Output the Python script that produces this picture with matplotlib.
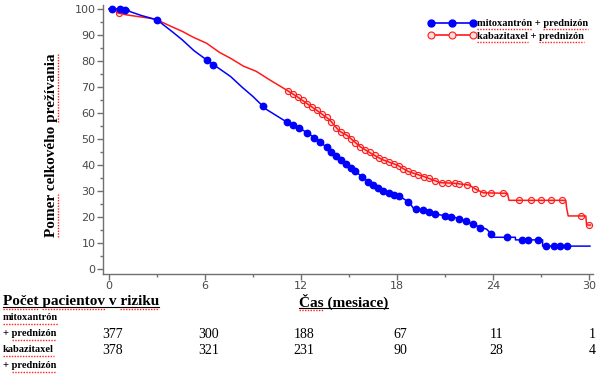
import numpy as np
import matplotlib
matplotlib.use('Agg')
import matplotlib.pyplot as plt
from matplotlib.lines import Line2D
from matplotlib.transforms import IdentityTransform, blended_transform_factory

# krivky prezivania (mesiace, %)
mito_t = [0, 1.2, 1.3, 2.0, 3.0, 4.0, 4.6, 5.3, 6.1, 6.9, 7.6, 8.3, 9.0, 9.8, 10.9,
          11.9, 12.4, 13.2, 13.8, 14.4, 14.7, 15.5, 16.5, 16.9, 17.4, 18.2, 18.8,
          19.0, 19.8, 20.7, 21.5, 22.1, 22.8, 23.6, 23.9, 24.0, 25.4, 25.4, 27.1,
          27.1, 30.06]
mito_s = [100, 100, 99, 97.5, 95.8, 91, 88, 84, 80.4, 77, 74, 70, 66.3, 61.5, 57.3,
          54.2, 52.3, 49, 45.5, 42.5, 41, 37, 32.3, 30.5, 29.5, 27.8, 25.5,
          23.5, 22.1, 20.8, 20.1, 18.8, 17, 15.3, 13.5, 12.2, 12.2, 11.2, 11.2,
          8.8, 8.8]

kaba_t = [0, 0.4, 0.5, 1.1, 2.56, 3.0, 3.8, 4.6, 5.3, 6.1, 6.9, 7.6, 8.4, 9.2, 10.1,
          11.1, 11.7, 12.35, 13.1, 13.8, 14.4, 14.9, 15.7, 16.5, 17.1, 18.0, 18.7,
          19.7, 20.7, 21.5, 22.5, 23.0, 23.4, 24.9, 25.0, 28.55, 28.6, 28.7, 29.8,
          29.85, 30.1]
kaba_s = [100, 100, 98.5, 97.7, 96.4, 95.8, 93.5, 91.3, 89, 86.8, 83.3, 81, 78, 76, 72.5,
          68.8, 66.5, 63.7, 60.5, 57.3, 53, 51.3, 47, 44, 42, 40, 37.5,
          35.5, 33.2, 33, 32.3, 30.4, 29.3, 29.1, 26.4, 26.4, 23.5, 20.4, 20.4,
          16.9, 16.9]

# cenzurovane pozorovania
mito_cens_t = [0.2, 0.7, 1.0, 3.0, 6.1, 6.5, 9.6, 11.1, 11.5, 11.9, 12.35, 12.8, 13.2,
               13.6, 13.9, 14.2, 14.5, 14.8, 15.1, 15.4, 15.8, 16.2, 16.5, 16.8, 17.1,
               17.5, 17.8, 18.1, 18.7, 19.2, 19.6, 20.0, 20.4, 21.0, 21.4, 21.9, 22.3,
               22.75, 23.2, 23.9, 24.9, 25.8, 26.2, 26.8, 27.3, 27.8, 28.2, 28.6]
mito_cens_s = [100, 100, 99.6, 95.8, 80.4, 78.5, 62.7, 56.7, 55.4, 54.2, 52.3, 50.4, 49,
               47, 45, 43.5, 42, 40.5, 39, 37.5, 35.5, 33.5, 32.3, 31, 30,
               29.3, 28.6, 28, 25.8, 23.2, 22.5, 21.8, 21.2, 20.5, 20.1, 19.1, 18.4,
               17.2, 15.8, 13.3, 12.2, 11.2, 11.2, 11.2, 8.8, 8.8, 8.8, 8.8]

kaba_cens_t = [0.6, 11.2, 11.5, 11.8, 12.1, 12.4, 12.7, 13.0, 13.3, 13.6, 13.9, 14.2,
               14.5, 14.8, 15.1, 15.4, 15.7, 16.0, 16.3, 16.6, 16.9, 17.2, 17.5, 17.8,
               18.1, 18.4, 18.7, 19.0, 19.3, 19.7, 20.0, 20.4, 20.8, 21.2, 21.6, 21.9,
               22.35, 22.9, 23.4, 23.9, 24.6, 25.6, 26.4, 27.0, 27.65, 28.3, 29.5, 30.0]
kaba_cens_s = [98.5, 68.4, 67.3, 66.1, 64.9, 63.5, 62.2, 61, 59.7, 58.3, 56.6, 54.4,
               52.7, 51.6, 50.1, 48.6, 47, 45.9, 44.8, 43.7, 42.7, 41.8, 41.1, 40.4,
               39.6, 38.6, 37.5, 36.9, 36.3, 35.5, 34.8, 33.9, 33.2, 33.1, 32.9, 32.6,
               32.4, 30.6, 29.3, 29.2, 29.1, 26.4, 26.4, 26.4, 26.4, 26.4, 20.4, 16.9]

# pocet pacientov v riziku
risk_times = [0, 6, 12, 18, 24, 30]
risk_mito = [377, 300, 188, 67, 11, 1]
risk_kaba = [378, 321, 231, 90, 28, 4]

labels = ['mitoxantrón + prednizón', 'kabazitaxel + prednizón']

W, H = 603, 377
BLUE = '#0000ff'
RED = '#ff1a1a'
GREY = '#707070'
serif = 'Liberation Serif'

fig = plt.figure(figsize=(W / 100, H / 100), dpi=100)
ax = fig.add_axes([103 / W, 1 - 274 / H, 490 / W, 269 / H])

ax.plot(kaba_cens_t, kaba_cens_s, 'o', ms=4.4, mfc='#ffdede', mec=RED, mew=0.8,
        zorder=2, clip_on=False)
ax.plot(kaba_t, kaba_s, color=RED, lw=1.1, zorder=3, clip_on=False)
ax.plot(mito_t, mito_s, color=BLUE, lw=1.1, zorder=4, clip_on=False)
ax.plot(mito_cens_t, mito_cens_s, 'o', ms=4.6, color=BLUE, zorder=5, clip_on=False)

ax.set_xlim(-0.375, 30.25)
ax.set_ylim(-1.92, 101.5)
ax.set_xticks(range(0, 31, 6))
ax.set_xticks(range(3, 30, 6), minor=True)
ax.set_yticks(range(0, 101, 10))
ax.set_yticks(range(5, 100, 10), minor=True)
for s in ['top', 'right']:
    ax.spines[s].set_visible(False)
for s in ['left', 'bottom']:
    ax.spines[s].set_color(GREY)
    ax.spines[s].set_linewidth(1)
ax.tick_params(which='major', length=4, width=1, color=GREY, labelcolor='#4a4a4a',
               labelsize=8, pad=1.5)
ax.tick_params(axis='x', which='major', pad=1)
ax.tick_params(which='minor', length=2.5, width=1, color=GREY)

ylab = fig.text(52 / W, 1 - 145 / H, 'Pomer celkového prežívania', rotation=90,
                ha='center', va='center', family=serif, weight='bold', fontsize=11)

h1 = Line2D([], [], color=BLUE, lw=1.2, marker='o', ms=5)
h2 = Line2D([], [], color=RED, lw=1.2, marker='o', ms=5, mfc='#ffdede', mec=RED, mew=0.8)
leg = fig.legend([h1, h2], labels, loc='upper left', bbox_to_anchor=(428 / W, 1 - 19 / H),
                 frameon=False, numpoints=3, handlelength=4.6, handletextpad=0.1,
                 labelspacing=0.3, borderpad=0, borderaxespad=0,
                 prop=dict(family=serif, weight='bold', size=7.5))

# tabulka pod grafom
head1 = fig.text(3 / W, 1 - 302 / H, 'Počet pacientov v riziku', ha='left', va='center',
                 family=serif, weight='bold', fontsize=11)
head2 = fig.text(299 / W, 1 - 302 / H, 'Čas (mesiace)', ha='left', va='center',
                 family=serif, weight='bold', fontsize=11)
r1a = fig.text(3 / W, 1 - 318 / H, 'mitoxantrón', ha='left', va='center',
               family=serif, weight='bold', fontsize=7.5)
r1b = fig.text(3 / W, 1 - 334 / H, '+ prednizón', ha='left', va='center',
               family=serif, weight='bold', fontsize=7.5)
r2a = fig.text(3 / W, 1 - 350 / H, 'kabazitaxel', ha='left', va='center',
               family=serif, weight='bold', fontsize=7.5)
r2b = fig.text(3 / W, 1 - 366 / H, '+ prednizón', ha='left', va='center',
               family=serif, weight='bold', fontsize=7.5)

trans = blended_transform_factory(ax.transData, fig.transFigure)
for t, a, b in zip(risk_times, risk_mito, risk_kaba):
    ax.text(t + 0.2, 1 - 334 / H, str(a), transform=trans, ha='center', va='center',
            family=serif, fontsize=10, clip_on=False)
    ax.text(t + 0.2, 1 - 350 / H, str(b), transform=trans, ha='center', va='center',
            family=serif, fontsize=10, clip_on=False)

fig.canvas.draw()
renderer = fig.canvas.get_renderer()


def text_size(s, prop):
    return renderer.get_text_width_height_descent(s, prop, ismath=False)


def squiggle(txt, words, underline=False):
    # cervene podciarknutie (kontrola pravopisu)
    s = txt.get_text()
    prop = txt.get_fontproperties()
    bb = txt.get_window_extent(renderer)
    d = max(text_size(s, prop)[2], text_size('lp', prop)[2])
    vertical = txt.get_rotation() == 90
    if underline:
        fig.add_artist(Line2D([bb.x0, bb.x1], [bb.y0 + d - 1.5] * 2, color='black',
                              lw=0.8, transform=IdentityTransform()))
    for w in words:
        i = s.find(w)
        end = text_size(s[:i + len(w)], prop)[0]
        a = end - text_size(w, prop)[0]
        if vertical:
            xs = [bb.x1 - d + 2.5] * 2
            ys = [bb.y0 + a, bb.y0 + end]
        else:
            xs = [bb.x0 + a, bb.x0 + end]
            ys = [bb.y0 + d - 3] * 2
        fig.add_artist(Line2D(xs, ys, color='#ff2020', lw=1.0, ls=(0, (1, 1)),
                              transform=IdentityTransform()))


squiggle(ylab, ['Pomer', 'prežívania'])
lt = leg.get_texts()
squiggle(lt[0], ['mitoxantrón', 'prednizón'])
squiggle(lt[1], ['kabazitaxel', 'prednizón'])
squiggle(head1, ['Počet', 'pacientov', 'riziku'], underline=True)
squiggle(head2, ['Čas'], underline=True)
squiggle(r1a, ['mitoxantrón'])
squiggle(r1b, ['prednizón'])
squiggle(r2a, ['kabazitaxel'])
squiggle(r2b, ['prednizón'])

fig.savefig('out.png', dpi=100)
